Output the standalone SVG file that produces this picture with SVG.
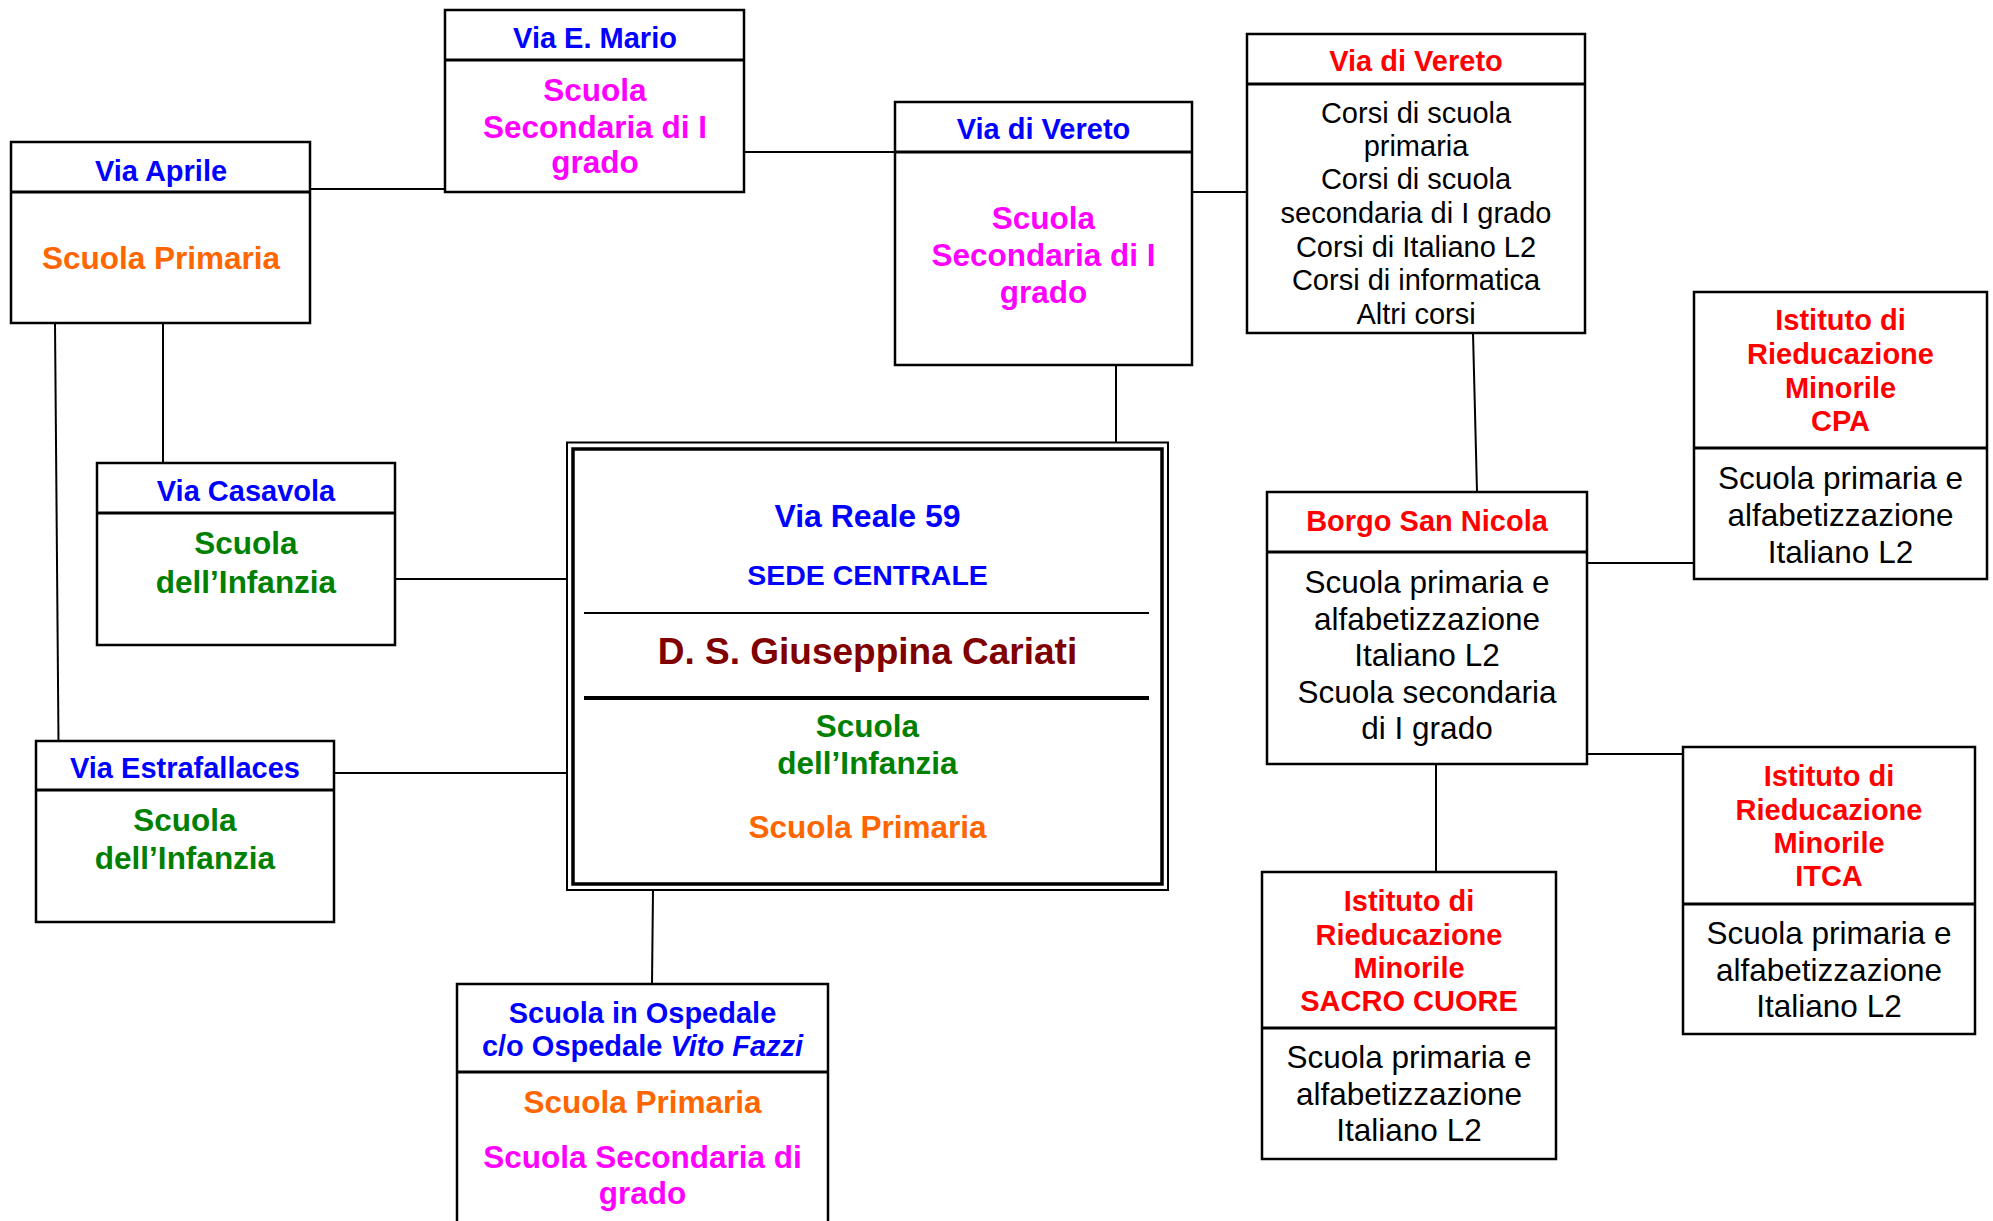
<svg xmlns="http://www.w3.org/2000/svg" width="1993" height="1221" viewBox="0 0 1993 1221">
<style>
  .box { fill: #fff; stroke: #000; stroke-width: 2.5; }
  .hdr { stroke: #000; stroke-width: 3; }
  .conn line { stroke: #000; stroke-width: 2; }
  text { font-family: "Liberation Sans", Arial, sans-serif; text-anchor: middle; }
  .b { font-weight: bold; }
  .h { font-size: 29px; font-weight: bold; }
  .bb { font-size: 31.5px; font-weight: bold; }
  .r { font-size: 31.5px; fill: #000; }
  .rs { font-size: 29px; fill: #000; }
  .blue { fill: #0000FF; }
  .red { fill: #FF0000; }
  .mag { fill: #FF00FF; }
  .org { fill: #FF6600; }
  .grn { fill: #008000; }
  .drk { fill: #800000; }
</style>
<rect width="1993" height="1221" fill="#fff"/>

<g id="connectors" class="conn">
  <line x1="310" y1="189" x2="445" y2="189"/>
  <line x1="744" y1="152" x2="895" y2="152"/>
  <line x1="1192" y1="192" x2="1247" y2="192"/>
  <line x1="1116" y1="365" x2="1116" y2="442"/>
  <line x1="163" y1="323" x2="163" y2="463"/>
  <line x1="55" y1="323" x2="58.5" y2="741"/>
  <line x1="395" y1="579" x2="567" y2="579"/>
  <line x1="335" y1="773" x2="567" y2="773"/>
  <line x1="653" y1="890" x2="652" y2="984"/>
  <line x1="1473" y1="333" x2="1477" y2="492"/>
  <line x1="1587" y1="563" x2="1694" y2="563"/>
  <line x1="1587" y1="754" x2="1683" y2="754"/>
  <line x1="1436" y1="764" x2="1436" y2="872"/>
</g>

<g id="via-aprile">
  <rect class="box" x="11" y="142" width="299" height="181"/>
  <line class="hdr" x1="11" y1="192" x2="310" y2="192"/>
  <text class="h blue" x="161" y="181">Via Aprile</text>
  <text class="bb org" x="161" y="269">Scuola Primaria</text>
</g>

<g id="via-e-mario">
  <rect class="box" x="445" y="10" width="299" height="182"/>
  <line class="hdr" x1="445" y1="60" x2="744" y2="60"/>
  <text class="h blue" x="595" y="48">Via E. Mario</text>
  <text class="bb mag" x="595" y="101">Scuola</text>
  <text class="bb mag" x="595" y="138">Secondaria di I</text>
  <text class="bb mag" x="595" y="173">grado</text>
</g>

<g id="via-di-vereto-blue">
  <rect class="box" x="895" y="102" width="297" height="263"/>
  <line class="hdr" x1="895" y1="152" x2="1192" y2="152"/>
  <text class="h blue" x="1043.5" y="139">Via di Vereto</text>
  <text class="bb mag" x="1043.5" y="229">Scuola</text>
  <text class="bb mag" x="1043.5" y="266">Secondaria di I</text>
  <text class="bb mag" x="1043.5" y="303">grado</text>
</g>

<g id="via-di-vereto-red">
  <rect class="box" x="1247" y="34" width="338" height="299"/>
  <line class="hdr" x1="1247" y1="84" x2="1585" y2="84"/>
  <text class="h red" x="1416" y="71">Via di Vereto</text>
  <text class="rs" x="1416" y="122.5">Corsi di scuola</text>
  <text class="rs" x="1416" y="156">primaria</text>
  <text class="rs" x="1416" y="189">Corsi di scuola</text>
  <text class="rs" x="1416" y="222.5">secondaria di I grado</text>
  <text class="rs" x="1416" y="256.5">Corsi di Italiano L2</text>
  <text class="rs" x="1416" y="290">Corsi di informatica</text>
  <text class="rs" x="1416" y="323.5">Altri corsi</text>
</g>

<g id="via-casavola">
  <rect class="box" x="97" y="463" width="298" height="182"/>
  <line class="hdr" x1="97" y1="513" x2="395" y2="513"/>
  <text class="h blue" x="246" y="501">Via Casavola</text>
  <text class="bb grn" x="246" y="554">Scuola</text>
  <text class="bb grn" x="246" y="592.5">dell’Infanzia</text>
</g>

<g id="via-estrafallaces">
  <rect class="box" x="36" y="741" width="298" height="181"/>
  <line class="hdr" x1="36" y1="790" x2="334" y2="790"/>
  <text class="h blue" x="185" y="778">Via Estrafallaces</text>
  <text class="bb grn" x="185" y="831">Scuola</text>
  <text class="bb grn" x="185" y="869">dell’Infanzia</text>
</g>

<g id="sede-centrale">
  <rect x="567" y="442.5" width="601" height="447.5" fill="#fff" stroke="#000" stroke-width="2"/>
  <rect x="573" y="449" width="589" height="435" fill="none" stroke="#000" stroke-width="3.5"/>
  <line x1="584" y1="613" x2="1149" y2="613" stroke="#000" stroke-width="2"/>
  <line x1="584" y1="698" x2="1149" y2="698" stroke="#000" stroke-width="4"/>
  <text class="b blue" x="867.5" y="527" font-size="32">Via Reale 59</text>
  <text class="b blue" x="867.5" y="585" font-size="28.5">SEDE CENTRALE</text>
  <text class="b drk" x="867.5" y="664" font-size="37">D. S. Giuseppina Cariati</text>
  <text class="bb grn" x="867.5" y="737">Scuola</text>
  <text class="bb grn" x="867.5" y="774">dell’Infanzia</text>
  <text class="bb org" x="867.5" y="838">Scuola Primaria</text>
</g>

<g id="scuola-in-ospedale">
  <rect class="box" x="457" y="984" width="371" height="250"/>
  <line class="hdr" x1="457" y1="1072" x2="828" y2="1072"/>
  <text class="h blue" x="642.5" y="1023">Scuola in Ospedale</text>
  <text class="h blue" x="642.5" y="1056">c/o Ospedale <tspan font-style="italic">Vito Fazzi</tspan></text>
  <text class="bb org" x="642.5" y="1113">Scuola Primaria</text>
  <text class="bb mag" x="642.5" y="1168">Scuola Secondaria di</text>
  <text class="bb mag" x="642.5" y="1204">grado</text>
</g>

<g id="borgo-san-nicola">
  <rect class="box" x="1267" y="492" width="320" height="272"/>
  <line class="hdr" x1="1267" y1="552" x2="1587" y2="552"/>
  <text class="h red" x="1427" y="531">Borgo San Nicola</text>
  <text class="r" x="1427" y="593">Scuola primaria e</text>
  <text class="r" x="1427" y="629.5">alfabetizzazione</text>
  <text class="r" x="1427" y="666">Italiano L2</text>
  <text class="r" x="1427" y="702.5">Scuola secondaria</text>
  <text class="r" x="1427" y="739">di I grado</text>
</g>

<g id="irm-cpa">
  <rect class="box" x="1694" y="292" width="293" height="287"/>
  <line class="hdr" x1="1694" y1="448" x2="1987" y2="448"/>
  <text class="h red" x="1840.5" y="330">Istituto di</text>
  <text class="h red" x="1840.5" y="364">Rieducazione</text>
  <text class="h red" x="1840.5" y="398">Minorile</text>
  <text class="h red" x="1840.5" y="431">CPA</text>
  <text class="r" x="1840.5" y="488.5">Scuola primaria e</text>
  <text class="r" x="1840.5" y="526">alfabetizzazione</text>
  <text class="r" x="1840.5" y="563">Italiano L2</text>
</g>

<g id="irm-itca">
  <rect class="box" x="1683" y="747" width="292" height="287"/>
  <line class="hdr" x1="1683" y1="904" x2="1975" y2="904"/>
  <text class="h red" x="1829" y="786">Istituto di</text>
  <text class="h red" x="1829" y="819.5">Rieducazione</text>
  <text class="h red" x="1829" y="853">Minorile</text>
  <text class="h red" x="1829" y="886">ITCA</text>
  <text class="r" x="1829" y="944">Scuola primaria e</text>
  <text class="r" x="1829" y="980.5">alfabetizzazione</text>
  <text class="r" x="1829" y="1017">Italiano L2</text>
</g>

<g id="irm-sacro-cuore">
  <rect class="box" x="1262" y="872" width="294" height="287"/>
  <line class="hdr" x1="1262" y1="1028" x2="1556" y2="1028"/>
  <text class="h red" x="1409" y="911">Istituto di</text>
  <text class="h red" x="1409" y="944.5">Rieducazione</text>
  <text class="h red" x="1409" y="978">Minorile</text>
  <text class="h red" x="1409" y="1011">SACRO CUORE</text>
  <text class="r" x="1409" y="1068">Scuola primaria e</text>
  <text class="r" x="1409" y="1104.5">alfabetizzazione</text>
  <text class="r" x="1409" y="1141">Italiano L2</text>
</g>
</svg>
